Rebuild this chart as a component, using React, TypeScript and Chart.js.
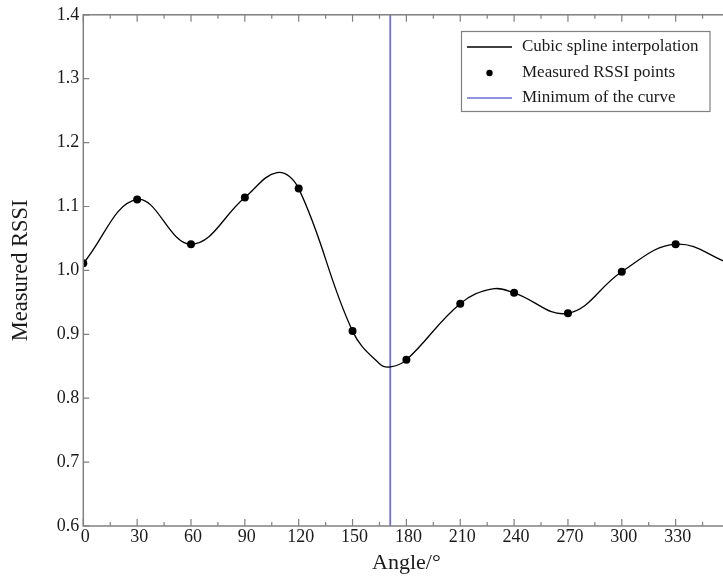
import React, { useEffect, useRef } from "react";
import { Chart, registerables } from "chart.js";

Chart.register(...registerables);

// Measured RSSI points (degrees, RSSI)
const measuredAngles = [0, 30, 60, 90, 120, 150, 180, 210, 240, 270, 300, 330];
const measuredRssi = [1.011, 1.111, 1.041, 1.114, 1.128, 0.905, 0.86, 0.948, 0.965, 0.933, 0.998, 1.041];

// Cubic spline curve: knots and extremes
const curveAngles = [0, 30, 60, 90, 108, 120, 150, 165, 171, 180, 210, 228, 240, 270, 300, 330, 360];
const curveRssi = [1.011, 1.111, 1.041, 1.114, 1.153, 1.128, 0.905, 0.854, 0.849, 0.86, 0.948, 0.971, 0.965, 0.933, 0.998, 1.041, 1.011];

// Minimum of the curve
const minimumAngle = [171];

const xRange = [0, 360];
const yRange = [0.6, 1.4];
const legendLabels = ["Cubic spline interpolation", "Measured RSSI points", "Minimum of the curve"];

const FONT = "'Liberation Serif', 'Times New Roman', serif";
const AXIS_COLOR = "#808080";
const TEXT_COLOR = "#1a1a1a";
const BLUE = "#6e6edc";

export default function App() {
  const ref = useRef<HTMLCanvasElement>(null);

  useEffect(() => {
    if (!ref.current) return;

    const framePlugin = {
      id: "frame",
      afterDraw(chart: any) {
        const { ctx, chartArea } = chart;
        const xs = chart.scales.x;
        const ys = chart.scales.y;
        const { left, right, top, bottom } = chartArea;
        ctx.save();
        ctx.strokeStyle = AXIS_COLOR;
        ctx.lineWidth = 1.5;
        ctx.strokeRect(left, top, right - left, bottom - top);
        ctx.lineWidth = 1.2;
        ctx.beginPath();
        xs.ticks.forEach((t: any) => {
          const px = xs.getPixelForValue(t.value);
          ctx.moveTo(px, bottom);
          ctx.lineTo(px, bottom - 7);
          ctx.moveTo(px, top);
          ctx.lineTo(px, top + 7);
          const mv = t.value + 15;
          if (mv < xRange[1]) {
            const mp = xs.getPixelForValue(mv);
            ctx.moveTo(mp, bottom);
            ctx.lineTo(mp, bottom - 4);
            ctx.moveTo(mp, top);
            ctx.lineTo(mp, top + 4);
          }
        });
        ys.ticks.forEach((t: any) => {
          const py = ys.getPixelForValue(t.value);
          ctx.moveTo(left, py);
          ctx.lineTo(left + 6, py);
          ctx.moveTo(right, py);
          ctx.lineTo(right - 6, py);
        });
        ctx.stroke();

        // Legend box
        const bx = 461.5, by = 31.5, bw = 248.5, bh = 80;
        ctx.fillStyle = "#ffffff";
        ctx.fillRect(bx, by, bw, bh);
        ctx.strokeStyle = AXIS_COLOR;
        ctx.lineWidth = 1.2;
        ctx.strokeRect(bx, by, bw, bh);
        const rows = [47, 73, 98];
        ctx.font = `17px ${FONT}`;
        ctx.textBaseline = "middle";
        ctx.textAlign = "left";
        ctx.fillStyle = TEXT_COLOR;
        legendLabels.forEach((lab, i) => ctx.fillText(lab, 522, rows[i]));
        ctx.lineWidth = 1.3;
        ctx.strokeStyle = "#000";
        ctx.beginPath();
        ctx.moveTo(467, rows[0]);
        ctx.lineTo(512, rows[0]);
        ctx.stroke();
        ctx.fillStyle = "#000";
        ctx.beginPath();
        ctx.arc(489.5, rows[1], 3.2, 0, Math.PI * 2);
        ctx.fill();
        ctx.strokeStyle = BLUE;
        ctx.lineWidth = 1.6;
        ctx.beginPath();
        ctx.moveTo(467, rows[2]);
        ctx.lineTo(512, rows[2]);
        ctx.stroke();
        ctx.restore();
      },
    };

    const chart = new Chart(ref.current, {
      type: "scatter",
      data: {
        datasets: [
          {
            label: legendLabels[0],
            data: curveAngles.map((a, i) => ({ x: a, y: curveRssi[i] })),
            showLine: true,
            borderColor: "#000",
            borderWidth: 1.3,
            pointRadius: 0,
            tension: 0.4,
            fill: false,
            order: 2,
          },
          {
            label: legendLabels[1],
            data: measuredAngles.map((a, i) => ({ x: a, y: measuredRssi[i] })),
            showLine: false,
            pointRadius: 4,
            pointBackgroundColor: "#000",
            pointBorderColor: "#000",
            pointBorderWidth: 0,
            order: 1,
          },
          {
            label: legendLabels[2],
            data: [
              { x: minimumAngle[0], y: yRange[0] },
              { x: minimumAngle[0], y: yRange[1] },
            ],
            showLine: true,
            borderColor: BLUE,
            borderWidth: 1.8,
            pointRadius: 0,
            order: 3,
          },
        ],
      },
      options: {
        animation: false,
        responsive: false,
        devicePixelRatio: 1,
        layout: { padding: { left: 0, top: 14, right: 30.5, bottom: 0 } },
        plugins: { legend: { display: false }, tooltip: { enabled: false } },
        scales: {
          x: {
            type: "linear",
            min: xRange[0],
            max: xRange[1],
            grid: { display: false, drawTicks: false },
            border: { display: false },
            ticks: {
              stepSize: 30,
              autoSkip: false,
              maxRotation: 0,
              padding: 0,
              labelOffset: 2,
              color: TEXT_COLOR,
              font: { family: FONT, size: 18 },
              callback: (v: any) => (v >= xRange[1] ? "" : String(v)),
            },
            title: {
              display: true,
              text: "Angle/°",
              color: TEXT_COLOR,
              font: { family: FONT, size: 22 },
              padding: { top: 0, bottom: 0 },
            },
            afterFit: (s: any) => {
              s.height = 50;
            },
          },
          y: {
            min: yRange[0],
            max: yRange[1],
            grid: { display: false, drawTicks: false },
            border: { display: false },
            ticks: {
              stepSize: 0.1,
              autoSkip: false,
              padding: 4,
              color: TEXT_COLOR,
              font: { family: FONT, size: 18 },
              callback: (v: any) => Number(v).toFixed(1),
            },
            title: {
              display: true,
              text: "Measured RSSI",
              color: TEXT_COLOR,
              font: { family: FONT, size: 22.5 },
              padding: { top: 8, bottom: 0 },
            },
            afterFit: (s: any) => {
              s.width = 83.3;
            },
          },
        },
      },
      plugins: [framePlugin],
    } as any);

    return () => chart.destroy();
  }, []);

  return (
    <div
      style={{
        position: "absolute",
        left: 0,
        top: 0,
        width: 723,
        height: 576,
        overflow: "hidden",
        background: "#fff",
      }}
    >
      <canvas ref={ref} width={760} height={576} style={{ display: "block" }} />
    </div>
  );
}
